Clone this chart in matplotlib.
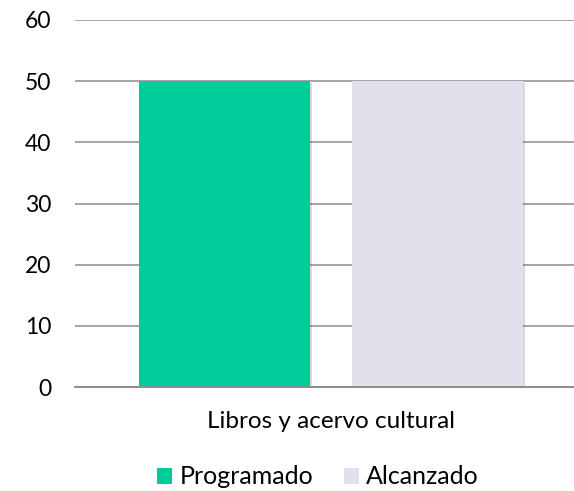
import matplotlib.pyplot as plt
import matplotlib.patheffects as pe
from matplotlib.patches import Patch

categoria = ["Libros y acervo cultural"]
programado = [50]
alcanzado = [50]
series = ["Programado", "Alcanzado"]
colores = ["#00CC99", "#E3DFEC"]
yticks = [0, 10, 20, 30, 40, 50, 60]

plt.rcParams['font.family'] = ['Lato', 'DejaVu Sans']

fig = plt.figure(figsize=(5.74, 4.91), dpi=100)
# axes run past the right edge of the picture, as in the original crop
ax = fig.add_axes([75 / 574, 1 - 387 / 491, 512 / 574, 367 / 491])

w = 0.334
off = 0.208
sombra = [pe.SimplePatchShadow(offset=(1.5, -1.5), alpha=0.15, shadow_rgbFace='black'), pe.Normal()]
ax.bar([-off], programado, width=w, color=colores[0], zorder=3, path_effects=sombra)
ax.bar([off], alcanzado, width=w, color=colores[1], zorder=3, path_effects=sombra)

ax.set_xlim(-0.5, 0.5)
ax.set_ylim(0, 60)
ax.set_yticks(yticks)
ax.set_yticklabels([str(v) for v in yticks], fontsize=16.5)
ax.set_xticks([0])
ax.set_xticklabels(categoria, fontsize=17.5)
ax.tick_params(axis='y', length=0, pad=17)
ax.tick_params(axis='x', length=0, pad=17.5)
ax.grid(axis='y', color='#8c8c8c', linewidth=1.1, zorder=0)
for s in ['top', 'right', 'left']:
    ax.spines[s].set_visible(False)
ax.spines['bottom'].set_color('#8c8c8c')
ax.spines['bottom'].set_linewidth(1.4)
ax.spines['bottom'].set_zorder(4)

handles = [Patch(facecolor=c, edgecolor='none') for c in colores]
fig.legend(handles, series, loc='center', bbox_to_anchor=(318 / 574, 1 - 477 / 491),
           ncol=2, frameon=False, fontsize=18, handlelength=0.6, handleheight=0.6,
           handletextpad=0.3, columnspacing=1.2)

fig.savefig("out.png", dpi=100)
